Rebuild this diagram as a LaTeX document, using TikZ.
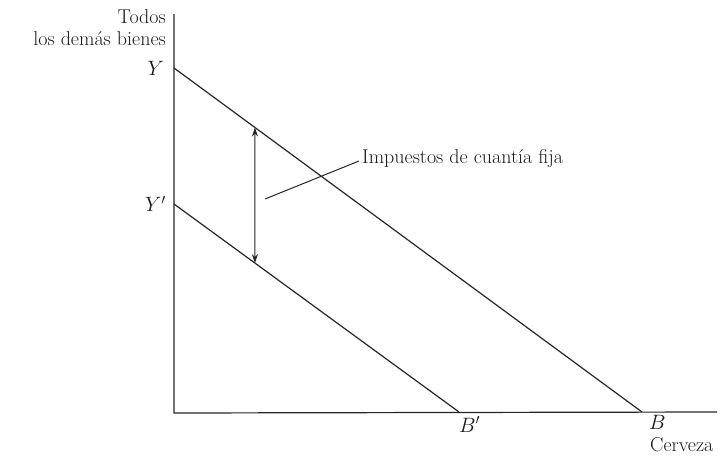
\documentclass[tikz,border=0pt]{standalone}
\usepackage{amsmath}
\usetikzlibrary{positioning,calc,arrows.meta}
\begin{document}
\begin{tikzpicture}[x=1pt,y=-1pt,font=\fontsize{20}{22}\selectfont]
\tikzset{
  axis/.style={draw=black!85, line width=1.2pt},
  budget/.style={draw=black!85, line width=1.2pt},
  gap/.style={draw=black!85, line width=1pt, {Stealth[length=9pt,width=6pt]}-{Stealth[length=9pt,width=6pt]}},
  lead/.style={draw=black!85, line width=1pt},
  lbl/.style={inner sep=0pt, text=black!90}
}
\useasboundingbox (0,0) rectangle (726,458);
\coordinate (o) at (174,413);
\coordinate (ytop) at (174,14);
\coordinate (xend) at (717,412);
\coordinate (Y) at (174,68);
\coordinate (Yp) at (174,204);
\coordinate (B) at (642,412);
\coordinate (Bp) at (459,412);
\draw[axis] (ytop) -- (o) -- (xend);
\draw[budget] (Y) -- (B);
\draw[budget] (Yp) -- (Bp);
\coordinate (gtop) at ($(Y)!0.173!(B)$);
\coordinate (gbot) at ($(Yp)!0.284!(Bp)$);
\draw[gap] (gtop) -- (gbot);
\node[lbl, anchor=west] (tax) at (362,159) {Impuestos de cuantía fija};
\coordinate (leadend) at (265,199);
\draw[lead] ($(tax.west)+(-3,2)$) -- (leadend);
\node[lbl, align=right, anchor=north east] (yaxis) at (166,9) {Todos\\los demás bienes};
\node[lbl, left=10pt of Y] (ylab) {$Y$};
\node[lbl, left=8pt of Yp] (yplab) {$Y'$};
\node[lbl, anchor=base west] (bplab) at (459,432) {$B'$};
\node[lbl, anchor=base west] (blab) at (649,429) {$B$};
\node[lbl, anchor=base west] (xaxis) at (650,451) {Cerveza};
\end{tikzpicture}
\end{document}
